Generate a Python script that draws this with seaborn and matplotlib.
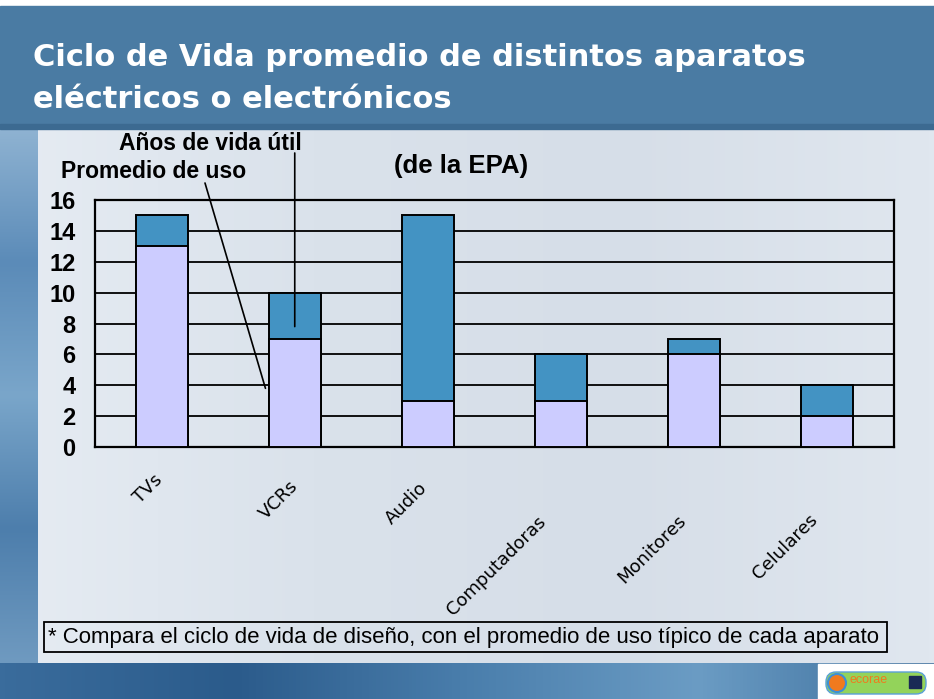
import numpy as np
import pandas as pd
import matplotlib.pyplot as plt
import matplotlib.patches as mpatches
from matplotlib.colors import LinearSegmentedColormap
import seaborn as sns

# datos (años, EPA)
aparatos = ['TVs', 'VCRs', 'Audio', 'Computadoras', 'Monitores', 'Celulares']
promedio_uso = [13, 7, 3, 3, 6, 2]
vida_util = [15, 10, 15, 6, 7, 4]
y_ticks = [0, 2, 4, 6, 8, 10, 12, 14, 16]

df = pd.DataFrame({'Aparato': aparatos, 'Uso': promedio_uso, 'Vida': vida_util})

W, H = 934, 699
sns.set_style('white')
plt.rcParams['font.family'] = ['Liberation Sans', 'DejaVu Sans']
plt.rcParams['text.color'] = 'black'
plt.rcParams['xtick.color'] = 'black'
plt.rcParams['ytick.color'] = 'black'

fig = plt.figure(figsize=(W / 100, H / 100), dpi=100)
fig.patch.set_facecolor('#dde5ee')

# fondo tipo diapositiva
bg = fig.add_axes([0, 0, 1, 1], zorder=-10)
bg.set_xlim(0, W)
bg.set_ylim(H, 0)
bg.axis('off')

def gradient(ax, extent, colors, vertical=False):
    cmap = LinearSegmentedColormap.from_list('g', colors)
    g = np.linspace(0, 1, 256)
    g = g[:, None] if vertical else g[None, :]
    ax.imshow(g, cmap=cmap, extent=extent, aspect='auto', interpolation='bicubic')

gradient(bg, (0, W, 663, 128), ['#e6ecf3', '#dae2eb', '#d6dee8', '#e0e7ef'])
gradient(bg, (0, 38, 663, 128), ['#8fb3d2', '#5b8bb8', '#7aa6ca', '#4d7eac', '#6f9ac0'], vertical=True)
gradient(bg, (0, W, H, 663), ['#3a6c9c', '#2b5b8b', '#4a7eac', '#6b9cc4', '#3b6d9b'])
bg.add_patch(mpatches.Rectangle((0, 0), W, 6, color='white'))
bg.add_patch(mpatches.Rectangle((0, 6), W, 122, color='#4a7ba3'))
bg.add_patch(mpatches.Rectangle((0, 124), W, 5, color='#3c6a91'))
bg.set_xlim(0, W)
bg.set_ylim(H, 0)

fig.text(33 / W, 1 - 57 / H, 'Ciclo de Vida promedio de distintos aparatos',
         color='white', fontsize=22, fontweight='bold', family='DejaVu Sans', va='center')
fig.text(33 / W, 1 - 100 / H, 'eléctricos o electrónicos',
         color='white', fontsize=22, fontweight='bold', family='DejaVu Sans', va='center')

# grafico
ax = fig.add_axes([95 / W, 1 - 447 / H, (894 - 95) / W, (447 - 200) / H])
ax.patch.set_alpha(0)

sns.barplot(data=df, x='Aparato', y='Vida', color='#4393c3', saturation=1, width=0.39,
            edgecolor='black', linewidth=1.4, ax=ax, zorder=3)
sns.barplot(data=df, x='Aparato', y='Uso', color='#ccccff', saturation=1, width=0.39,
            edgecolor='black', linewidth=1.4, ax=ax, zorder=4)

ax.set_xlim(-0.5, len(aparatos) - 0.5)
ax.set_ylim(0, 16)
ax.set_yticks(y_ticks)
ax.set_yticklabels([str(t) for t in y_ticks], fontsize=17, fontweight='bold', color='black')
ax.yaxis.grid(True, color='black', lw=1.3)
ax.set_axisbelow(True)
ax.set_xlabel('')
ax.set_ylabel('')
for s in ax.spines.values():
    s.set_color('black')
    s.set_linewidth(1.6)

ax.set_xticks(range(len(aparatos)))
ax.set_xticklabels([])
ax.set_xticks(np.arange(-0.5, len(aparatos)), minor=True)
ax.tick_params(axis='x', which='major', length=0)
ax.tick_params(axis='x', which='minor', length=7, width=1.4, direction='out', color='black')
ax.tick_params(axis='y', length=7, width=1.3, direction='out', color='black', pad=7)

label_drop = [24, 30, 32, 66, 64, 64]
label_shift = [-8, -6, -10, -24, -17, -19]
for i, name in enumerate(aparatos):
    ax.annotate(name, xy=(i, 0), xycoords=('data', 'axes fraction'),
                xytext=(label_shift[i], -label_drop[i]), textcoords='offset pixels',
                rotation=45, rotation_mode='anchor', ha='right', va='top',
                fontsize=13, family='DejaVu Sans', color='black')

# anotaciones
fig.text(119 / W, 1 - 143 / H, 'Años de vida útil', fontsize=16.5, fontweight='bold', va='center')
fig.text(61 / W, 1 - 171 / H, 'Promedio de uso', fontsize=16.5, fontweight='bold', va='center')
fig.text(394 / W, 1 - 166 / H, '(de la EPA)', fontsize=18.5, fontweight='bold', va='center')

line = dict(arrowstyle='-', color='black', lw=1.2, shrinkA=0, shrinkB=0)
ax.annotate('', xy=(0.78, 3.8), xycoords='data',
            xytext=(205 / W, 1 - 183 / H), textcoords='figure fraction', arrowprops=line)
ax.annotate('', xy=(1.0, 7.8), xycoords='data',
            xytext=(1.0, 1 - 153 / H), textcoords=('data', 'figure fraction'), arrowprops=line)

# nota al pie
bg.add_patch(mpatches.Rectangle((44, 622), 843, 30, fill=False, edgecolor='black', lw=1.3))
fig.text(48 / W, 1 - 637 / H,
         '* Compara el ciclo de vida de diseño, con el promedio de uso típico de cada aparato',
         fontsize=16, va='center')

# logo
bg.add_patch(mpatches.Rectangle((818, 664), 116, 35, color='white'))
bg.add_patch(mpatches.FancyBboxPatch((826, 672), 100, 22, boxstyle='round,pad=0,rounding_size=10',
                                     facecolor='#93d35a', edgecolor='#5aa0d8', lw=1))
bg.add_patch(mpatches.Circle((837, 683), 9, facecolor='#f07a1e', edgecolor='#3d8fd6', lw=1.5))
bg.add_patch(mpatches.Rectangle((909, 676), 12, 12, color='#1a2a55'))
fig.text(850 / W, 1 - 680 / H, 'ecorae', color='#f07a1e', fontsize=9, va='center')

fig.savefig('out.png', dpi=100, facecolor=fig.get_facecolor())
